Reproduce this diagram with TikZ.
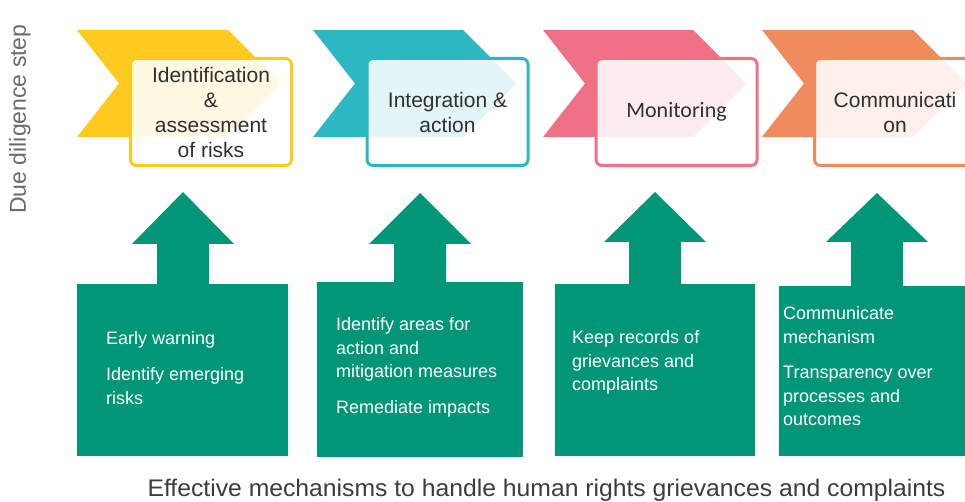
\documentclass[tikz,border=0pt]{standalone}
\usepackage{fontspec}
\setmainfont{Liberation Sans}
\newfontfamily\calfont{Carlito}
\definecolor{yel}{HTML}{FFCA1F}
\definecolor{tea}{HTML}{2DB7C3}
\definecolor{pnk}{HTML}{EF7186}
\definecolor{org}{HTML}{F08B5B}
\definecolor{grn}{HTML}{009677}
\definecolor{txt}{HTML}{303030}
\definecolor{gry}{HTML}{6A6A6A}
\definecolor{btm}{HTML}{3C3C3C}
\tikzset{
  stepbox/.style={draw=#1, fill=white, fill opacity=0.87, text opacity=1, line width=3pt,
    rounded corners=6pt, inner sep=0pt, align=center, text=txt,
    minimum width=161pt, minimum height=107pt, font=\fontsize{21}{25}\selectfont},
  mechbox/.style={fill=grn, draw=none, inner sep=0pt},
  mechtext/.style={text=white, align=left, anchor=north west, inner sep=0pt,
    font=\fontsize{18}{23.5}\selectfont},
  chev/.style={fill=#1, draw=none},
  uparrow/.style={fill=grn, draw=none},
}
\begin{document}
\begin{tikzpicture}[x=1pt,y=-1pt]
\useasboundingbox (0,0) rectangle (965,502);
\clip (0,0) rectangle (965,502);
% chevrons
\foreach \L/\R/\c in {77/228/yel, 313/463/tea, 543/693/pnk, 762/913/org}{
  \fill[chev=\c] (\L,30) -- (\R,30) -- (\R+53.5,83.5) -- (\R,137) -- (\L,137) -- (\L+42,83.5) -- cycle;
}
% step boxes
\node[stepbox=yel] (s1) at (211,112) {Identification\\\&\\assessment\\of risks};
\node[stepbox=tea] (s2) at (447.5,112) {Integration \&\\action};
\node[stepbox=pnk, font=\calfont\fontsize{22}{25}\selectfont] (s3) at (676.5,112) {Monitoring};
\node[stepbox=org] (s4) at (895,112) {Communicati\\on};
% up arrows
\foreach \tx/\ty/\by in {183/192/244, 420/193/244, 655/192/242, 877/193/242}{
  \fill[uparrow] (\tx,\ty) -- (\tx+51,\by) -- (\tx+26,\by) -- (\tx+26,290) -- (\tx-26,290) -- (\tx-26,\by) -- (\tx-51,\by) -- cycle;
}
% mechanism boxes
\node[mechbox, minimum width=211pt, minimum height=172pt] (m1) at (182.5,370) {};
\node[mechbox, minimum width=206pt, minimum height=175pt] (m2) at (420,369.5) {};
\node[mechbox, minimum width=200pt, minimum height=172pt] (m3) at (655,370) {};
\node[mechbox, minimum width=206pt, minimum height=170pt] (m4) at (882,371) {};
% mechanism texts
\node[mechtext] (t1) at (106,331.5) {Early warning\\[12.5pt]Identify emerging\\risks};
\node[mechtext] (t2) at (336,317.5) {Identify areas for\\action and\\mitigation measures\\[12pt]Remediate impacts};
\node[mechtext] (t3) at (572,330.5) {Keep records of\\grievances and\\complaints};
\node[mechtext] (t4) at (783,306.5) {Communicate\\mechanism\\[12pt]Transparency over\\processes and\\outcomes};
% axis labels
\node[rotate=90, text=gry, font=\fontsize{23}{25}\selectfont, inner sep=0pt] (dd) at (20,119) {Due diligence step};
\node[text=btm, font=\fontsize{24}{26}\selectfont, inner sep=0pt] (em) at (546.5,490) {\scalebox{1.03}[1]{Effective mechanisms to handle human rights grievances and complaints}};
\end{tikzpicture}
\end{document}
